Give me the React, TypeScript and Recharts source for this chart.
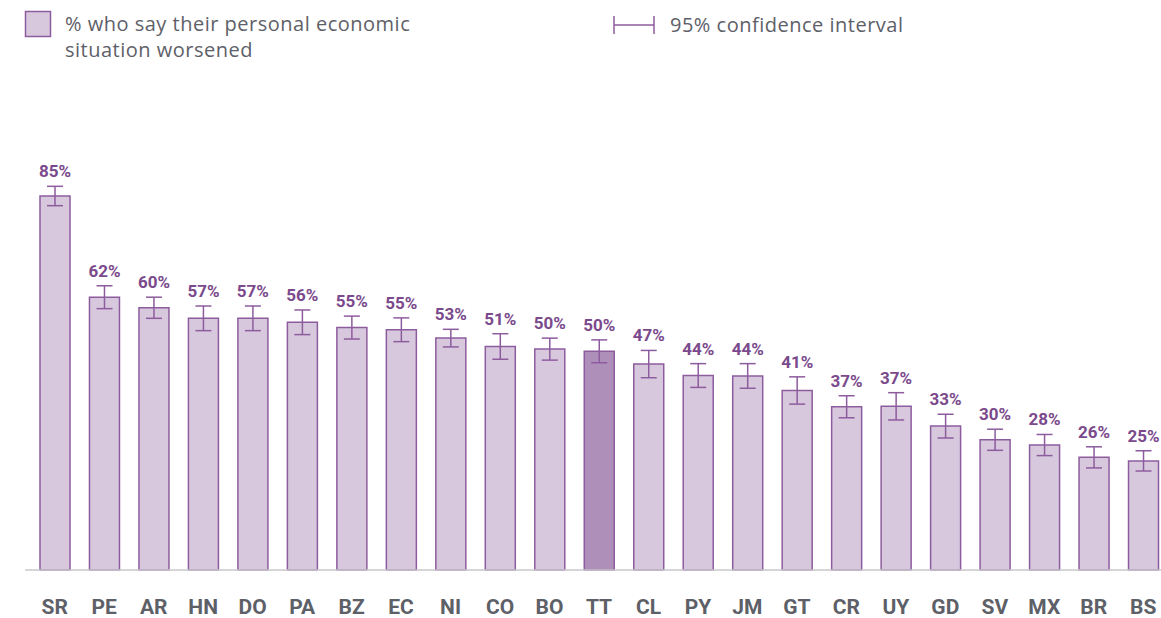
import { BarChart, Bar, XAxis, YAxis, ErrorBar, LabelList, Cell } from 'recharts';

const countries = ['SR', 'PE', 'AR', 'HN', 'DO', 'PA', 'BZ', 'EC', 'NI', 'CO', 'BO', 'TT', 'CL', 'PY', 'JM', 'GT', 'CR', 'UY', 'GD', 'SV', 'MX', 'BR', 'BS'];
const worsened = [85.0, 62.0, 59.6, 57.2, 57.2, 56.3, 55.1, 54.6, 52.7, 50.8, 50.2, 49.7, 46.8, 44.2, 44.1, 40.8, 37.1, 37.2, 32.7, 29.6, 28.4, 25.6, 24.8];
const ciHalf = [2.2, 2.6, 2.4, 2.8, 2.8, 2.8, 2.6, 2.7, 2.0, 2.9, 2.5, 2.6, 3.1, 2.7, 2.8, 3.1, 2.5, 3.1, 2.7, 2.4, 2.4, 2.4, 2.3];
const highlighted = 'TT';

const PURPLE = '#8d5c9e';
const LABEL = '#7b4a8c';
const FILL = '#d8c8de';
const FILL_HI = '#ae8fba';
const GREY_TEXT = '#5e6068';

const data = countries.map((c, i) => ({ country: c, value: worsened[i], err: ciHalf[i] }));

function ValueLabel(props: any) {
  const { x, y, width, height, index } = props;
  const d = data[index];
  if (!d) return null;
  // push the label above the top whisker
  const errPx = (d.err / d.value) * height;
  return (
    <text
      x={x + width / 2}
      y={y - errPx - 9}
      textAnchor="middle"
      fill={LABEL}
      fontFamily="Roboto"
      fontWeight={700}
      fontSize={17}
    >
      {`${Math.round(d.value)}%`}
    </text>
  );
}

function CountryTick({ x, y, payload }: any) {
  return (
    <text x={x} y={y + 42} textAnchor="middle" fill={GREY_TEXT} fontFamily="Roboto" fontWeight={700} fontSize={21}>
      {payload.value}
    </text>
  );
}

function TopLegend() {
  const textStyle = { fontFamily: 'Open Sans', fontSize: 20, letterSpacing: 0.5, fill: GREY_TEXT } as const;
  return (
    <svg width={1161} height={70} style={{ position: 'absolute', left: 0, top: 0 }}>
      <rect x={25.5} y={11.5} width={25} height={25} fill={FILL} stroke={PURPLE} strokeWidth={1.5} />
      <text x={65} y={31} {...textStyle}>% who say their personal economic</text>
      <text x={65} y={57} {...textStyle}>situation worsened</text>
      <line x1={614} y1={16} x2={614} y2={34} stroke={PURPLE} strokeWidth={1.5} />
      <line x1={614} y1={25} x2={654} y2={25} stroke={PURPLE} strokeWidth={1.5} />
      <line x1={654} y1={16} x2={654} y2={34} stroke={PURPLE} strokeWidth={1.5} />
      <text x={670} y={32} {...textStyle}>95% confidence interval</text>
    </svg>
  );
}

export default function App() {
  return (
    <div style={{ position: 'absolute', left: 0, top: 0, width: 1161, height: 618, overflow: 'hidden', background: '#fff' }}>
      <BarChart width={1168} height={618} data={data} margin={{ top: 130, right: 0, bottom: 0, left: 25 }} barSize={30}>
        <XAxis
          dataKey="country"
          interval={0}
          height={48}
          tickSize={0}
          tickLine={false}
          axisLine={{ stroke: '#c9c9cc', strokeWidth: 1.5 }}
          padding={{ left: 5, right: 0 }}
          tick={<CountryTick />}
        />
        <YAxis domain={[0, 100]} hide />
        <Bar dataKey="value" stroke={PURPLE} strokeWidth={1.5} isAnimationActive={false}>
          {data.map(d => (
            <Cell key={d.country} fill={d.country === highlighted ? FILL_HI : FILL} />
          ))}
          <ErrorBar dataKey="err" width={8} stroke={PURPLE} strokeWidth={1.5} direction="y" />
          <LabelList dataKey="value" content={<ValueLabel />} />
        </Bar>
      </BarChart>
      <TopLegend />
    </div>
  );
}
